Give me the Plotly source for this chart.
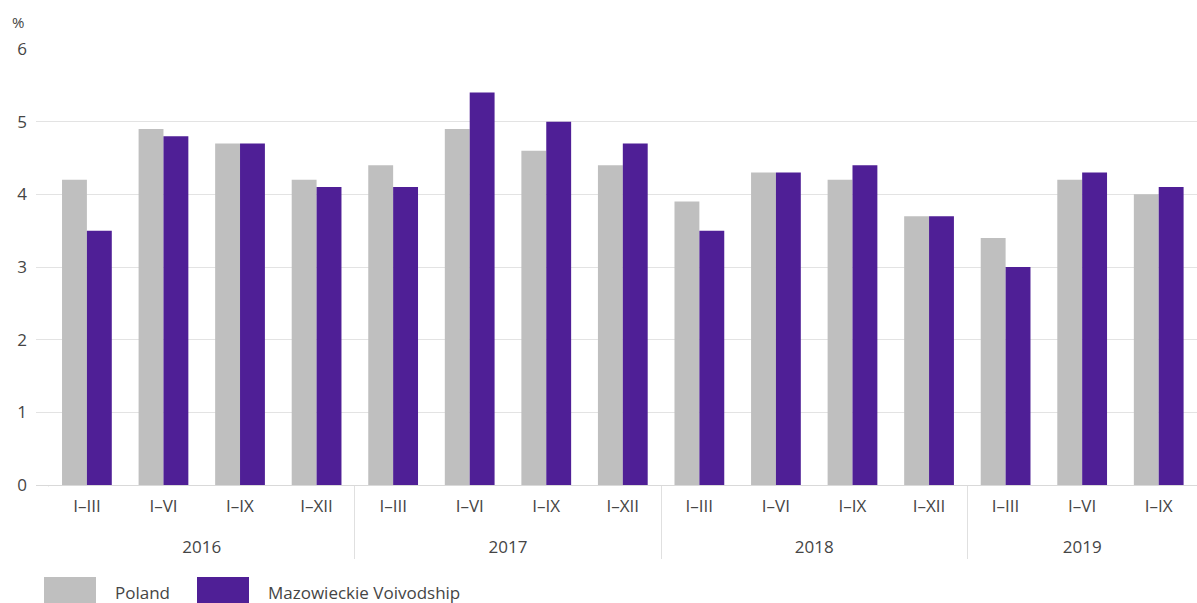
import plotly.graph_objects as go

years = ["2016"] * 4 + ["2017"] * 4 + ["2018"] * 4 + ["2019"] * 3
periods = ["I–III", "I–VI", "I–IX", "I–XII"] * 3 + ["I–III", "I–VI", "I–IX"]
poland = [4.2, 4.9, 4.7, 4.2, 4.4, 4.9, 4.6, 4.4, 3.9, 4.3, 4.2, 3.7, 3.4, 4.2, 4.0]
mazowieckie = [3.5, 4.8, 4.7, 4.1, 4.1, 5.4, 5.0, 4.7, 3.5, 4.3, 4.4, 3.7, 3.0, 4.3, 4.1]
series_names = ["Poland", "Mazowieckie Voivodship"]
colors = ["#bfbfbf", "#4f1f96"]

FONT = "Open Sans"
TXT = "#454545"
FS = 17

L, T, B = 36, 49, 118
PW, PH = 1197 - L, 603 - T - B


def px(x):
    return (x - L) / PW


def py(y):
    return (485 - y) / PH


# a blank second line under each period label pushes the year row down
period_labels = [p + "<br>\u00a0" for p in periods]

fig = go.Figure()
for name, vals, col in zip(series_names, [poland, mazowieckie], colors):
    fig.add_trace(go.Bar(x=[years, period_labels], y=vals, name=name, marker_color=col,
                         marker_line_width=0, showlegend=False))

fig.update_layout(
    width=1197, height=603,
    margin=dict(l=L, r=0, t=T, b=B),
    barmode="group", bargap=0.35, bargroupgap=0,
    plot_bgcolor="white", paper_bgcolor="white",
    font=dict(family=FONT, size=FS, color=TXT),
)
fig.update_xaxes(
    type="multicategory", range=[-0.665, 14.5],
    showline=True, linecolor="#d9d9d9", linewidth=1,
    showgrid=False, ticks="", dividercolor="#e0e0e0", dividerwidth=1,
    ticklabelstandoff=6,
    tickfont=dict(family=FONT, size=FS, color=TXT),
)
fig.update_yaxes(
    range=[0, 6], dtick=1, showgrid=True, gridcolor="#e3e3e3", gridwidth=1,
    zeroline=False, ticks="", ticklabelstandoff=8,
    tickfont=dict(family=FONT, size=FS, color=TXT),
)

fig.add_annotation(text="%", xref="paper", yref="paper", x=px(18), y=py(22),
                   xanchor="center", yanchor="middle", showarrow=False,
                   font=dict(family=FONT, size=15, color=TXT))

# hide the outer-left category divider (the reference only has inner ones)
fig.add_shape(type="rect", xref="paper", yref="paper",
              x0=px(40), x1=px(56), y0=py(575), y1=py(486.5),
              fillcolor="white", line_width=0, layer="above")

# custom legend
legend_items = [(44, 96, 113), (197, 249, 266)]
for (x0, x1, tx), name, col in zip(legend_items, series_names, colors):
    fig.add_shape(type="rect", xref="paper", yref="paper",
                  x0=px(x0), x1=px(x1), y0=py(603), y1=py(577),
                  fillcolor=col, line_width=0)
    fig.add_annotation(text=name, xref="paper", yref="paper",
                       x=px(tx), y=py(592),
                       xanchor="left", yanchor="middle", showarrow=False,
                       font=dict(family=FONT, size=FS, color=TXT))

fig.write_html("out.html")
